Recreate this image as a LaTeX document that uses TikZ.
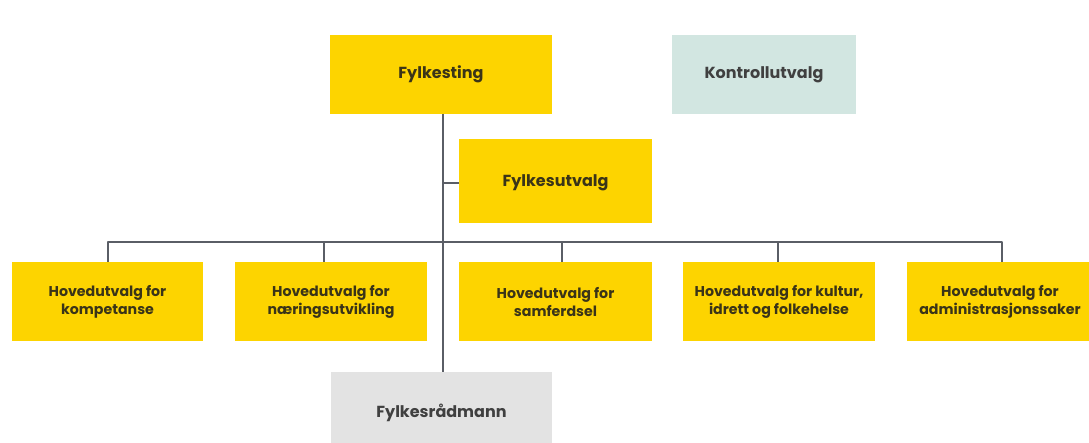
\documentclass[tikz,border=0pt]{standalone}
\usepackage{fontspec}
\setmainfont{Poppins}
\definecolor{yel}{HTML}{FDD400}
\definecolor{teal}{HTML}{D2E6E1}
\definecolor{gry}{HTML}{E3E3E3}
\definecolor{ln}{HTML}{5A5E66}
\definecolor{txt}{HTML}{3A3418}
\begin{document}
\begin{tikzpicture}[x=1pt,y=-1pt,
  box/.style={inner sep=0pt, outer sep=0pt, align=center, text=txt, font=\fontsize{14.2}{18}\selectfont\bfseries},
  big/.style={box, font=\fontsize{16}{18}\selectfont\bfseries},
  conn/.style={draw=ln, line width=2pt}]
\useasboundingbox (0,0) rectangle (1089,443);
% boxes
\fill[yel] (330,35) rectangle (552,114);
\node[big] (fting) at (441,74.5) {Fylkesting};
\fill[teal] (672,35) rectangle (856,114);
\node[big, text=black!75] (kontroll) at (764,74.5) {Kontrollutvalg};
\fill[yel] (459,139) rectangle (652,223);
\node[big] (futvalg) at (555.5,183) {Fylkesutvalg};
\fill[gry] (331,372) rectangle (552,443);
\node[big, text=black!75] (radmann) at (441.5,413) {Fylkesrådmann};
\coordinate (radtop) at (443,372);
\coordinate (ftbot) at (443,114);
\coordinate (fuleft) at (459,183);
\coordinate (branch) at (443,183);

\fill[yel] (12,262) rectangle (203,341);
\node[box] (h1) at (107.5,301.5) {Hovedutvalg for\\kompetanse};
\fill[yel] (235,262) rectangle (427,341);
\node[box] (h2) at (331,301.5) {Hovedutvalg for\\næringsutvikling};
\fill[yel] (459,262) rectangle (652,341);
\node[box] (h3) at (555.5,301.5) {Hovedutvalg for\\samferdsel};
\fill[yel] (683,262) rectangle (875,341);
\node[box] (h4) at (779,301.5) {Hovedutvalg for kultur,\\idrett og folkehelse};
\fill[yel] (907,262) rectangle (1089,341);
\node[box] (h5) at (1000,301.5) {Hovedutvalg for\\administrasjonssaker};

\coordinate (t1) at (108,262);
\coordinate (t2) at (324,262);
\coordinate (t3) at (562,262);
\coordinate (t4) at (778,262);
\coordinate (t5) at (1002,262);
\coordinate (b1) at (108,242);
\coordinate (b2) at (324,242);
\coordinate (b3) at (562,242);
\coordinate (b4) at (778,242);
\coordinate (b5) at (1002,242);

% connectors
\draw[conn] (ftbot) -- (radtop);
\draw[conn] (branch) -- (fuleft);
\draw[conn, line join=round] (t1) -- (b1) -- (b5) -- (t5);
\draw[conn] (t2) -- (b2);
\draw[conn] (t3) -- (b3);
\draw[conn] (t4) -- (b4);
\end{tikzpicture}
\end{document}
